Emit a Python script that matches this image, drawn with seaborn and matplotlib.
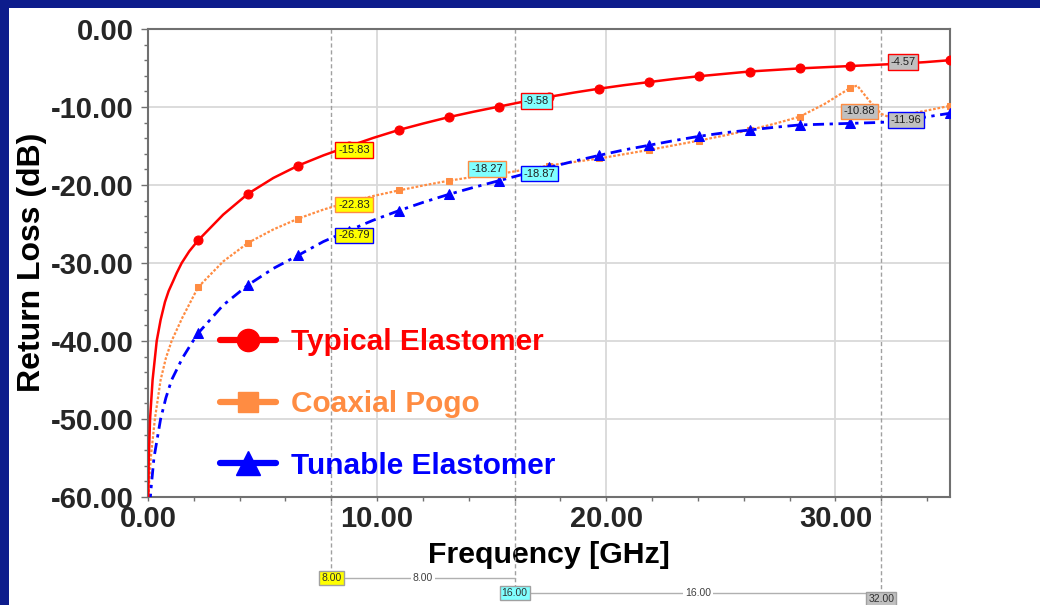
import numpy as np
import pandas as pd
import matplotlib
matplotlib.use("Agg")
import matplotlib.pyplot as plt
import matplotlib.transforms as mtransforms
from matplotlib.lines import Line2D
from matplotlib.patches import Rectangle
import seaborn as sns

# ---------------- data ----------------
grid_freq = [2.1875, 3.28125, 4.375, 5.46875, 6.5625, 7.65625, 8.75, 9.84375,
             10.9375, 12.03125, 13.125, 14.21875, 15.3125, 16.40625, 17.5,
             18.59375, 19.6875, 20.78125, 21.875, 22.96875, 24.0625, 25.15625,
             26.25, 27.34375, 28.4375, 29.53125, 30.625, 31.71875, 32.8125,
             33.90625, 35.0]

typ_freq = [0.01, 0.03, 0.09, 0.2, 0.38, 0.55, 0.74, 0.9, 1.1, 1.25, 1.47, 1.8] + grid_freq
typ_rl = [-61.0, -55.5, -50.0, -45.0, -40.0, -37.3, -35.0, -33.6, -32.3, -31.3,
          -30.0, -28.5,
          -27.1, -23.8, -21.1, -19.1, -17.5, -16.2, -15.05, -13.95, -12.95,
          -12.1, -11.3, -10.6, -9.95, -9.3, -8.7, -8.15, -7.65, -7.2, -6.8,
          -6.4, -6.05, -5.75, -5.45, -5.25, -5.05, -4.9, -4.75, -4.6, -4.45,
          -4.25, -4.0]

coax_freq = [0.02, 0.05, 0.12, 0.3, 0.55, 0.78, 1.03, 1.5] + grid_freq[:27] + \
            [30.95, 31.45, 31.71875, 32.0, 32.35, 32.8125, 33.90625, 35.0]
coax_rl = [-60.5, -58.0, -55.0, -50.0, -45.0, -42.2, -40.0, -37.0,
           -33.1, -29.8, -27.4, -25.7, -24.3, -23.15, -22.2, -21.4, -20.7,
           -20.05, -19.45, -18.95, -18.6, -18.05, -17.5, -17.05, -16.6,
           -16.05, -15.5, -14.9, -14.3, -13.65, -12.95, -12.15, -11.25, -9.6,
           -7.6, -7.25, -9.1, -10.0, -10.88, -11.3, -11.1, -10.5, -9.85]

tun_freq = [0.08, 0.13, 0.26, 0.55, 0.78, 1.03, 1.5, 1.9] + grid_freq
tun_rl = [-61.0, -59.0, -55.0, -50.0, -47.3, -45.0, -42.2, -40.3,
          -39.0, -35.4, -32.8, -30.7, -29.0, -27.25, -25.85, -24.5, -23.3,
          -22.2, -21.2, -20.3, -19.45, -18.6, -17.75, -16.95, -16.2, -15.5,
          -14.9, -14.3, -13.75, -13.3, -12.95, -12.6, -12.3, -12.2, -12.1,
          -12.0, -11.85, -11.3, -10.8]

series_names = ["Typical Elastomer", "Coaxial Pogo", "Tunable Elastomer"]

marker_freqs = [8.0, 16.0, 32.0]
marker_names = ["8.00", "16.00", "32.00"]
typ_marks = [-15.83, -9.58, -4.57]
coax_marks = [-22.83, -18.27, -10.88]
tun_marks = [-26.79, -18.87, -11.96]
delta_names = ["8.00", "16.00"]

x_ticks = [0, 10, 20, 30]
y_ticks = [0, -10, -20, -30, -40, -50, -60]

# ---------------- style ----------------
sns.set_style("white")
plt.rcParams["font.family"] = ["Liberation Sans", "DejaVu Sans"]

RED = "#ff0000"
ORANGE = "#ff8c42"
BLUE = "#0000ff"
FRAME = "#0d1c8c"
MARK_FILL = ["#ffff00", "#80ffff", "#c0c0c0"]

W, H = 1040, 605
fig = plt.figure(figsize=(W / 100, H / 100), dpi=100)
fig.patch.set_facecolor(FRAME)
fig.patches.append(Rectangle((9 / W, 0), 1, (H - 8) / H, transform=fig.transFigure,
                             facecolor="white", edgecolor="none", zorder=-10))

L, R, T, B = 148, 950, 29, 497
ax = fig.add_axes([L / W, (H - B) / H, (R - L) / W, (B - T) / H])
ax.set_facecolor("white")


def mark_idx(freqs):
    return [i for i, f in enumerate(freqs)
            if f > 1.0 and abs(f / 2.1875 - round(f / 2.1875)) < 1e-6]


df_typ = pd.DataFrame({"f": typ_freq, "rl": typ_rl})
df_coax = pd.DataFrame({"f": coax_freq, "rl": coax_rl})
df_tun = pd.DataFrame({"f": tun_freq, "rl": tun_rl})

sns.lineplot(data=df_coax, x="f", y="rl", ax=ax, color=ORANGE, lw=1.6,
             linestyle=(0, (1.2, 0.8)), marker="s", ms=4.8, mec=ORANGE, mfc=ORANGE,
             markevery=mark_idx(coax_freq), zorder=3, sort=False)
sns.lineplot(data=df_tun, x="f", y="rl", ax=ax, color=BLUE, lw=2.0,
             linestyle=(0, (4, 2, 1.2, 2)), marker="^", ms=6.5, mec=BLUE, mfc=BLUE,
             markevery=mark_idx(tun_freq), zorder=4, sort=False)
sns.lineplot(data=df_typ, x="f", y="rl", ax=ax, color=RED, lw=1.8,
             linestyle="-", marker="o", ms=6.5, mec=RED, mfc=RED,
             markevery=mark_idx(typ_freq), zorder=5, sort=False)

ax.set_xlim(0, 35)
ax.set_ylim(-60, 0)

ax.set_xticks(x_ticks)
ax.set_xticklabels([f"{v:.2f}" for v in x_ticks])
ax.set_yticks(y_ticks)
ax.set_yticklabels([f"{v:.2f}" for v in y_ticks])
ax.set_xticks(np.arange(0, 35.01, 2), minor=True)
ax.set_yticks(np.arange(-60, 0.01, 2), minor=True)

tick_font = dict(family="Liberation Sans", weight="bold", size=21)
for lab in ax.get_xticklabels() + ax.get_yticklabels():
    lab.set_fontproperties(matplotlib.font_manager.FontProperties(**tick_font))

ax.tick_params(axis="y", which="major", direction="out", length=5, width=1,
               color="#707070", pad=5.5, left=True)
ax.tick_params(axis="y", which="minor", direction="out", length=3, width=1,
               color="#707070", left=True)
ax.tick_params(axis="x", which="both", direction="out", length=3, width=1,
               color="#707070", pad=3, bottom=True)

ax.grid(True, which="major", color="#d9d9d9", lw=1.3, zorder=0)
ax.set_axisbelow(True)
for side in ["left", "bottom", "top", "right"]:
    ax.spines[side].set_visible(True)
    ax.spines[side].set_color("#707070")
    ax.spines[side].set_linewidth(1.5)

ax.set_xlabel("Frequency [GHz]", fontsize=21.8, fontweight="bold", color="black")
ax.set_ylabel("Return Loss (dB)", fontsize=23, fontweight="bold", color="black")
ax.xaxis.set_label_coords(0.5, -0.093)
ax.yaxis.set_label_coords((47 - L) / (R - L), (B - 262) / (B - T))

# ---------------- marker lines ----------------
trans = mtransforms.blended_transform_factory(ax.transData, ax.transAxes)
bottoms = [(B - 578) / (B - T), (B - 593) / (B - T), (B - 599) / (B - T)]
for f, yb in zip(marker_freqs, bottoms):
    ax.plot([f, f], [1, yb], transform=trans, color="#a0a0a0", lw=1,
            linestyle=(0, (3, 2)), clip_on=False, zorder=1)

box_kw = dict(boxstyle="square,pad=0.2", lw=1)
for f, yb, name, fill in zip(marker_freqs, bottoms, marker_names, MARK_FILL):
    ax.text(f, yb, name, transform=trans, ha="center", va="center", fontsize=7.5,
            color="#303030", zorder=10, clip_on=False,
            bbox=dict(fc=fill, ec="#a0a0a0", **box_kw))

for i, name in enumerate(delta_names):
    f0, f1 = marker_freqs[i], marker_freqs[i + 1]
    yb = bottoms[i]
    ax.plot([f0 + 0.6, f1], [yb, yb], transform=trans, color="#b0b0b0", lw=1,
            clip_on=False, zorder=2)
    ax.text((f0 + f1) / 2, yb, name, transform=trans, ha="center", va="center",
            fontsize=7.5, color="#404040", zorder=9, clip_on=False,
            bbox=dict(boxstyle="square,pad=0.15", fc="white", ec="none"))

# ---------------- value callouts ----------------
sides = {
    "typ": ["r", "r", "r"],
    "coax": ["r", "l", "l"],
    "tun": ["r", "r", "r"],
}
offsets_r = [5.0, 6.5, 6.5]
offsets_l = [-8.5, -4.5]
for key, vals, edge in [("typ", typ_marks, RED), ("coax", coax_marks, ORANGE),
                        ("tun", tun_marks, BLUE)]:
    for j, (f, v) in enumerate(zip(marker_freqs, vals)):
        side = sides[key][j]
        if side == "r":
            dx, ha = offsets_r[j], "left"
        else:
            dx, ha = (offsets_l[0] if j == 1 else offsets_l[1]), "right"
        ax.annotate(f"{v:.2f}", xy=(f, v), xytext=(dx, 1.8), textcoords="offset points",
                    ha=ha, va="center", fontsize=8, color="#202020", zorder=12,
                    bbox=dict(boxstyle="square,pad=0.25", fc=MARK_FILL[j], ec=edge, lw=1))

# ---------------- legend ----------------
handles = [
    Line2D([], [], color=RED, lw=4.5, marker="o", ms=16, mfc=RED, mec=RED),
    Line2D([], [], color=ORANGE, lw=4.5, marker="s", ms=15, mfc=ORANGE, mec=ORANGE),
    Line2D([], [], color=BLUE, lw=4.5, marker="^", ms=17, mfc=BLUE, mec=BLUE),
]
leg = ax.legend(handles, series_names, loc="center left",
                bbox_to_anchor=((220 - L) / (R - L), (B - 404) / (B - T)),
                frameon=False, handlelength=1.9, handletextpad=0.5,
                labelspacing=1.14, borderpad=0, borderaxespad=0,
                prop=dict(family="Liberation Sans", weight="bold", size=21.4))
for txt, c in zip(leg.get_texts(), [RED, ORANGE, BLUE]):
    txt.set_color(c)

fig.savefig("out.png", dpi=100, facecolor=fig.get_facecolor())
